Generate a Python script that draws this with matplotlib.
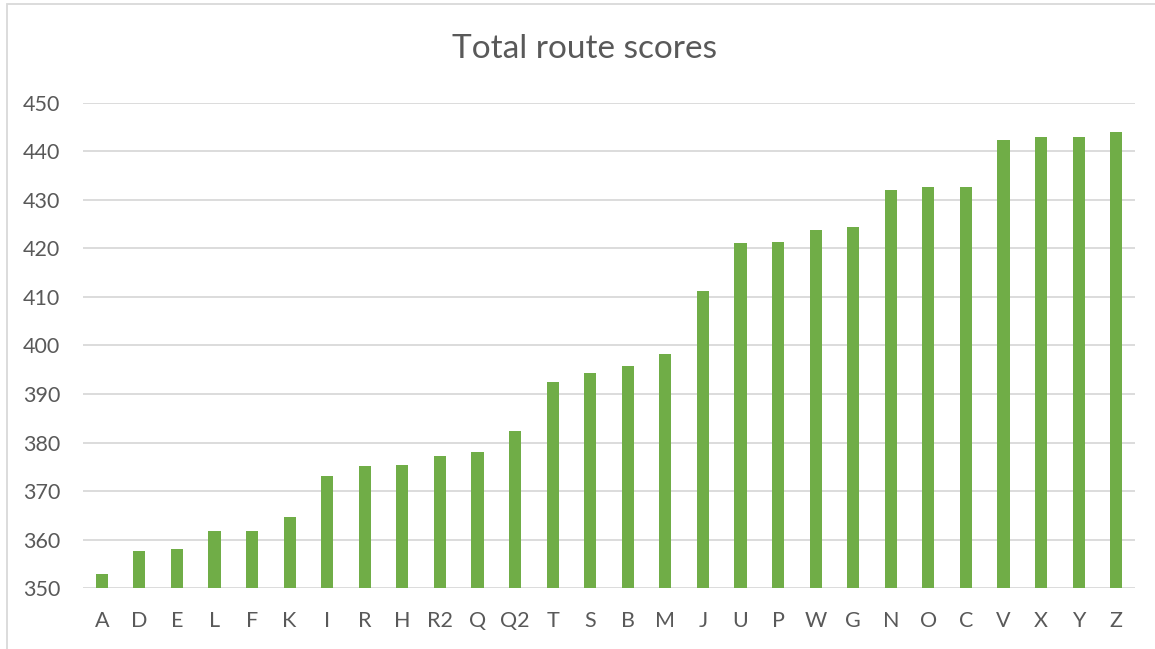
import matplotlib
matplotlib.use("Agg")
import matplotlib.pyplot as plt
from matplotlib.patches import Rectangle

# route labels, ordered by score
routes = ["A", "D", "E", "L", "F", "K", "I", "R", "H", "R2", "Q", "Q2", "T", "S", "B",
          "M", "J", "U", "P", "W", "G", "N", "O", "C", "V", "X", "Y", "Z"]
scores = [352.9, 357.7, 358.1, 361.8, 361.9, 364.7, 373.2, 375.2, 375.4, 377.2, 378.1, 382.4,
          392.5, 394.3, 395.8, 398.2, 411.3, 421.2, 421.3, 423.8, 424.3, 432.1, 432.6, 432.6,
          442.3, 442.9, 443.0, 444.0]
yticks = [350, 360, 370, 380, 390, 400, 410, 420, 430, 440, 450]

text_col = "#595959"
plt.rcParams["font.family"] = ["Lato", "DejaVu Sans"]

fig = plt.figure(figsize=(11.55, 6.49), dpi=100)
ax = fig.add_axes([83 / 1155, 1 - 588.3 / 649, (1135 - 83) / 1155, (588.3 - 102.7) / 649])

x = list(range(len(routes)))
ax.bar(x, [s - 350 for s in scores], bottom=350, width=0.32, color="#70AD47", zorder=3)

ax.set_xlim(-0.5, len(routes) - 0.5)
ax.set_ylim(350, 450)
ax.set_yticks(yticks)
ax.set_xticks(x)
ax.set_xticklabels(routes)
ax.grid(axis="y", color="#D9D9D9", linewidth=1.3, zorder=0)
for s in ax.spines.values():
    s.set_visible(False)
ax.tick_params(axis="both", length=0, labelsize=15.5, labelcolor=text_col)
ax.tick_params(axis="y", pad=16.5)
ax.tick_params(axis="x", pad=16)

fig.text(585 / 1155, 1 - 49 / 649, "Total route scores", ha="center", va="center",
         fontsize=24, color=text_col)

# chart area border (runs off the image on the right and bottom)
fig.patches.append(Rectangle((7 / 1155, -0.1), 1.2, 1 - 4 / 649 + 0.1, transform=fig.transFigure,
                             fill=False, edgecolor="#D9D9D9", linewidth=1.3))

fig.savefig("out.png", dpi=100)
